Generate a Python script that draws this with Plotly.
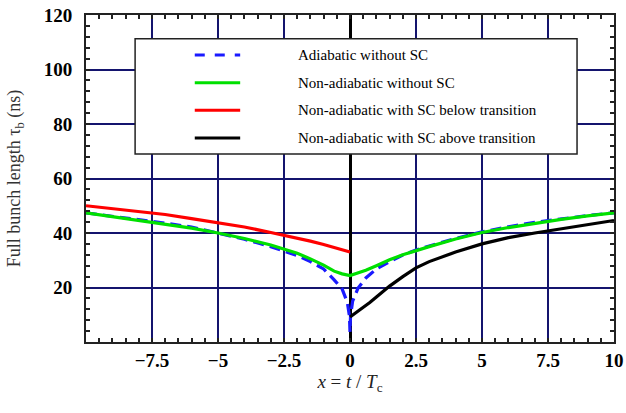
import plotly.graph_objects as go

# ---- data ----
adiabatic_x = [-10, -9, -8, -7, -6, -5, -4, -3, -2.5, -2, -1.5, -1, -0.6, -0.3, -0.1, -0.02, 0,
               0.02, 0.1, 0.3, 0.6, 1, 1.5, 2, 2.5, 3, 4, 5, 6, 7, 8, 9, 10]
adiabatic_y = [47.4, 46.2, 44.9, 43.6, 42.2, 40.0, 37.7, 35.0, 33.5, 31.7, 29.5, 26.8, 22.8, 19.5, 14.5, 9.5, 3.7,
               9.5, 15.0, 19.7, 23.5, 26.8, 29.5, 31.9, 33.8, 35.3, 38.0, 40.4, 42.3, 43.9, 45.2, 46.4, 47.4]

nonad_x = [-10, -9, -8, -7, -6, -5, -4, -3, -2, -1.5, -1, -0.6, -0.3, 0,
           0.3, 0.6, 1, 1.5, 2, 2.5, 3, 4, 5, 6, 7, 8, 9, 10]
nonad_y = [47.4, 46.0, 44.8, 43.4, 41.8, 40.0, 38.0, 35.6, 32.6, 30.5, 28.2, 26.0, 25.0, 24.4,
           25.2, 26.3, 28.0, 30.2, 32.0, 33.6, 35.0, 37.8, 40.2, 42.0, 43.6, 45.0, 46.3, 47.4]

below_x = [-10, -9, -8, -7, -6, -5, -4, -3, -2, -1.5, -1, -0.5, 0]
below_y = [50.0, 49.0, 47.8, 46.8, 45.3, 43.8, 42.2, 40.2, 38.2, 37.0, 35.8, 34.3, 33.0]

above_x = [0, 0.25, 0.5, 0.75, 1, 1.5, 2, 2.5, 3, 4, 5, 6, 7, 8, 9, 10]
above_y = [9.2, 11.0, 12.5, 14.5, 16.5, 20.5, 24.0, 27.2, 29.5, 33.0, 36.0, 38.3, 40.0, 41.6, 43.2, 44.6]

x_tickvals = [-7.5, -5, -2.5, 0, 2.5, 5, 7.5, 10]
x_ticktext = ["\u22127.5", "\u22125", "\u22122.5", "0", "2.5", "5", "7.5", "10"]
y_tickvals = [20, 40, 60, 80, 100, 120]
y_ticktext = ["20", "40", "60", "80", "100", "120"]

legend_names = ["Adiabatic without SC", "Non-adiabatic without SC",
                "Non-adiabatic with SC below transition", "Non-adiabatic with SC above transition"]

# ---- figure ----
SERIF = "Liberation Serif"
BLUE, GREEN, RED, BLACK = "#1a1aff", "#00e000", "#ff0000", "#000000"
GRID = "#14146e"

fig = go.Figure()
fig.add_trace(go.Scatter(x=adiabatic_x, y=adiabatic_y, mode="lines", name=legend_names[0],
                         line=dict(color=BLUE, width=3.2, dash="11px,6px"), showlegend=False))
fig.add_trace(go.Scatter(x=below_x, y=below_y, mode="lines", name=legend_names[2],
                         line=dict(color=RED, width=3.2), showlegend=False))
fig.add_trace(go.Scatter(x=above_x, y=above_y, mode="lines", name=legend_names[3],
                         line=dict(color=BLACK, width=3.2), showlegend=False))
fig.add_trace(go.Scatter(x=nonad_x, y=nonad_y, mode="lines", name=legend_names[1],
                         line=dict(color=GREEN, width=3.2), showlegend=False))

# ---- manual legend box (paper coordinates) ----
lx0, lx1, ly0, ly1 = 0.093, 0.930, 0.575, 0.927
fig.add_shape(type="rect", xref="paper", yref="paper", x0=lx0, x1=lx1, y0=ly0, y1=ly1,
              line=dict(color="#222222", width=1.5), fillcolor="white", layer="above")
rows = [0.878, 0.793, 0.709, 0.624]
styles = [dict(color=BLUE, width=3, dash="10px,10px"), dict(color=GREEN, width=3),
          dict(color=RED, width=3), dict(color=BLACK, width=3)]
for name, ry, st in zip(legend_names, rows, styles):
    fig.add_shape(type="line", xref="paper", yref="paper", x0=0.206, x1=0.292, y0=ry, y1=ry,
                  line=st, layer="above")
    fig.add_annotation(xref="paper", yref="paper", x=0.398, y=ry, text=name, showarrow=False,
                       xanchor="left", yanchor="middle",
                       font=dict(family=SERIF, size=15, color="black"))

tickfont = dict(family=SERIF, size=19, color="black", weight="bold")
fig.update_xaxes(range=[-10, 10], tickvals=x_tickvals, ticktext=x_ticktext, tickfont=tickfont,
                 showgrid=True, gridcolor=GRID, gridwidth=1.8,
                 zeroline=True, zerolinecolor="black", zerolinewidth=2.5,
                 showline=True, linecolor="#222222", linewidth=2, mirror="ticks",
                 ticks="inside", ticklen=0, tickcolor="#222222",
                 minor=dict(dtick=0.5, ticks="inside", ticklen=4, tickcolor="#222222", tickwidth=1.5, showgrid=False),
                 ticklabelstandoff=0,
                 title=dict(text="<i>x</i> = <i>t</i> / <i>T</i><sub>c</sub>",
                            font=dict(family=SERIF, size=19, color="#222222"), standoff=0))
fig.update_yaxes(range=[0, 120], tickvals=y_tickvals, ticktext=y_ticktext, tickfont=tickfont,
                 showgrid=True, gridcolor=GRID, gridwidth=1.8, zeroline=False,
                 showline=True, linecolor="#222222", linewidth=2, mirror="ticks",
                 ticks="inside", ticklen=0, tickcolor="#222222",
                 minor=dict(dtick=4, ticks="inside", ticklen=4, tickcolor="#222222", tickwidth=1.5, showgrid=False),
                 ticklabelstandoff=8,
                 title=dict(text="Full bunch length \u03c4<sub>b</sub> (ns)",
                            font=dict(family=SERIF, size=18, color="#333333"), standoff=18))

fig.update_layout(width=626, height=413, paper_bgcolor="white", plot_bgcolor="white",
                  font=dict(family=SERIF),
                  margin=dict(l=86, r=12, t=15, b=71, autoexpand=False), showlegend=False)

fig.write_html("out.html")
